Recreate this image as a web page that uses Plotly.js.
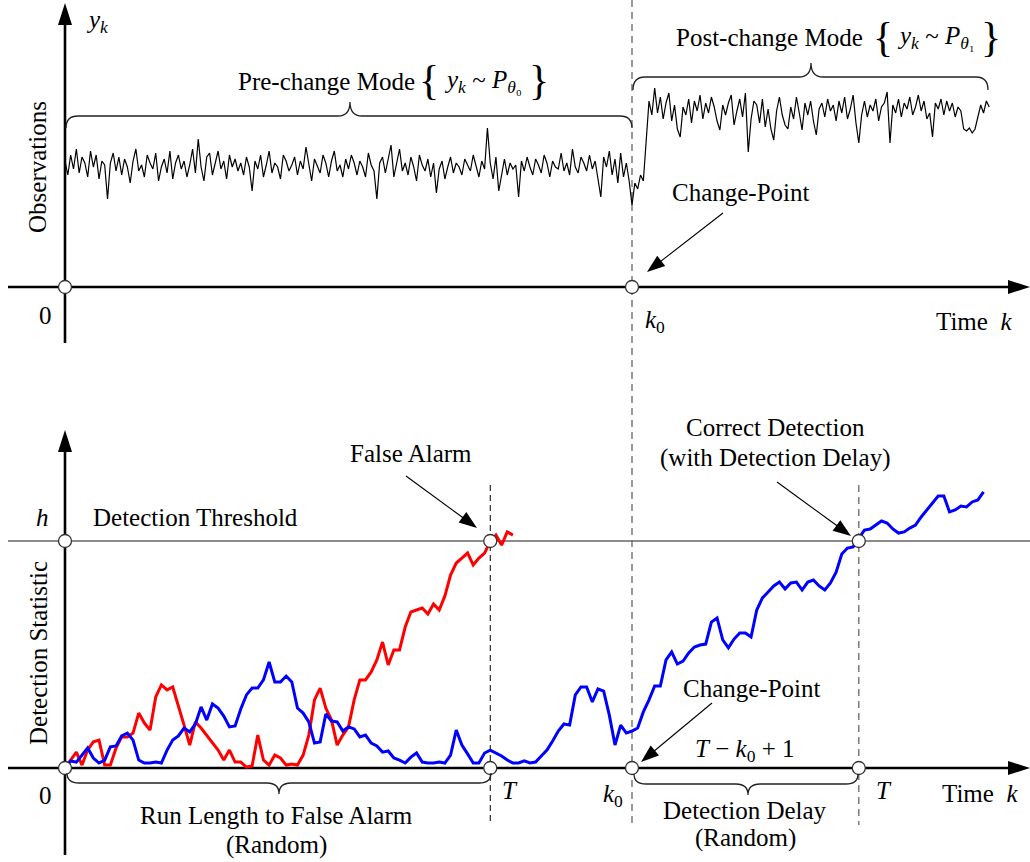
<!DOCTYPE html>
<html><head><meta charset="utf-8">
<script src="https://cdn.plot.ly/plotly-3.0.1.min.js"></script>
<style>html,body{margin:0;padding:0;background:#fff;}#chart{width:1030px;height:862px;}</style>
</head><body><div id="chart"></div>
<script>
// ---- data ----
const k0 = 200;      // change-point
const Tfa = 150;     // false-alarm stopping time
const Td = 280;      // correct detection stopping time
const h = 10;        // detection threshold
const STEP = 2;      // sampling step of detection statistics

const obsPre = [
6.3,5.6,6.6,5.9,6.9,5.7,6.5,6.2,5.5,6.8,6.0,6.6,5.4,6.3,6.1,4.4,6.2,6.7,5.8,6.5,
5.6,6.4,6.0,5.2,6.3,6.9,5.8,6.1,5.5,6.6,6.2,5.9,6.7,5.3,6.0,6.4,5.7,6.8,5.4,6.2,
6.6,5.9,6.3,5.5,6.1,6.9,5.7,7.4,6.0,5.3,6.5,6.7,5.6,6.2,6.8,5.9,6.3,5.4,6.6,6.0,
6.4,5.8,6.2,5.6,6.5,6.0,4.8,6.3,5.9,6.6,5.5,6.1,6.8,5.7,6.2,6.0,5.4,6.6,6.3,5.8,
6.1,6.5,5.6,6.3,5.9,7.0,6.2,5.3,6.4,6.0,5.7,6.6,6.2,5.5,6.3,6.8,5.8,6.1,5.5,6.4,
5.9,6.6,6.2,5.6,6.3,6.0,5.5,6.7,6.1,5.8,4.4,6.2,6.5,5.7,6.4,7.1,5.5,6.3,6.9,5.8,
6.2,5.6,6.5,6.0,5.3,6.6,6.1,5.8,6.4,5.5,6.2,4.7,5.9,6.3,5.4,6.0,6.5,5.7,6.2,6.0,
5.6,6.4,6.1,5.8,6.6,6.0,5.5,6.3,5.9,7.95,6.2,5.4,6.5,4.8,5.7,6.4,5.6,6.2,5.9,6.1,
4.5,6.3,5.8,6.5,6.0,5.6,6.4,6.1,5.7,6.6,6.2,5.5,6.3,6.0,5.9,6.7,5.8,6.2,5.6,6.9,
6.0,5.7,6.5,6.2,5.8,6.6,5.9,6.3,5.4,4.5,6.5,6.0,6.8,5.6,6.4,5.2,6.7,5.5,6.2,5.3
];
const obsPost = [
4.1,5.2,4.9,5.6,5.3,7.6,9.3,8.6,9.95,8.7,
9.5,8.4,9.2,9.7,8.3,9.1,7.9,7.5,9.0,8.6,
9.4,8.2,9.3,8.8,9.6,8.4,9.2,8.7,9.5,9.0,
8.3,7.85,9.1,8.6,9.2,9.6,8.1,8.8,9.4,8.5,
9.7,6.75,8.4,9.3,9.1,8.2,9.4,8.0,8.9,7.9,
7.35,8.8,9.5,8.6,8.1,7.9,9.0,8.4,9.5,8.7,
7.85,9.2,8.6,9.3,8.3,7.6,8.9,9.2,8.5,9.4,
8.8,9.1,8.3,9.3,8.7,9.5,8.4,8.9,9.6,8.2,
7.2,8.6,9.3,8.5,9.1,8.8,9.4,8.3,9.0,9.2,
9.75,7.2,9.1,8.7,9.4,8.5,9.2,8.9,9.5,8.6,
9.0,9.6,8.8,9.3,8.4,8.7,7.5,9.2,8.9,9.4,
8.6,9.3,8.8,9.2,8.5,9.0,8.8,7.9,7.8,7.95,
7.7,7.9,8.5,9.1,8.7,9.3,9.0
];
const redStat = [
0,0.35,0.7,0.13,0.8,1.15,1.23,0.13,0.13,0.88,
1.37,1.37,1.54,2.42,1.98,1.67,3.13,3.66,3.44,3.57,
2.78,1.89,1.01,2.03,1.76,1.45,1.15,0.79,0.35,0.79,
0.26,0.26,0.04,0.09,1.45,0.35,0.13,0.57,0.44,0.13,
0.18,0.13,0.57,1.45,3.0,3.52,2.64,2.11,1.01,1.45,
1.81,3.0,3.88,3.88,4.23,4.76,5.55,4.54,5.2,5.2,
6.21,6.87,6.96,7.05,6.78,7.22,6.96,7.58,8.5,9.03,
9.25,9.47,8.94,9.25,9.47,10.0,10.26,9.82,10.4,10.26
];
const blueStat = [
0,0.31,0.26,0.57,0.88,0.44,0.22,0.35,0.93,0.97,
1.41,1.54,1.23,0.35,0.22,0.22,0.26,0.22,0.79,1.23,
1.41,1.76,1.59,1.94,2.69,2.11,2.82,2.64,2.29,1.81,
1.85,2.6,3.22,3.52,3.52,3.88,4.67,3.79,3.79,4.05,
3.79,2.64,2.42,2.03,1.1,1.15,2.38,2.07,2.03,1.63,
1.81,1.72,1.37,1.45,1.1,0.97,0.7,0.75,0.44,0.35,
0.22,0.48,0.66,0.26,0.22,0.22,0.26,0.22,0.57,1.67,
1.01,0.62,0.22,0.22,0.66,0.79,0.66,0.53,0.35,0.22,
0.22,0.31,0.22,0.26,0.53,0.79,1.19,1.63,1.94,1.89,
3.22,3.57,3.57,2.91,3.48,3.39,2.33,1.01,1.89,1.54,
1.63,1.76,2.47,3.0,3.61,3.61,4.76,5.11,4.58,4.71,
5.07,5.33,5.42,5.46,6.43,6.61,5.64,5.29,5.68,5.95,
5.95,5.77,6.96,7.49,7.75,8.02,8.19,7.89,8.15,8.19,
7.84,8.19,8.28,8.02,7.84,8.15,8.63,9.43,9.69,9.74,
10.13,10.48,10.53,10.7,10.88,10.79,10.53,10.35,10.4,10.57,
10.7,11.06,11.37,11.72,11.98,11.98,11.28,11.37,11.54,11.5,
11.72,11.81,12.16
];

// ---- geometry (pixel layout of the figure) ----
const W = 1030, H = 862;
const PX = 2.835;   // px per time unit
const PY1 = 20;     // px per unit, observations
const PY2 = 22.7;   // px per unit, detection statistic
const FONT = 'Liberation Serif, Times New Roman, serif';
const FS = 25;
const X = px => px / W;
const Y = py => 1 - py / H;

const obsAll = obsPre.concat(obsPost);
const obsK = obsAll.map((_, i) => i);
const redK = redStat.map((_, i) => i * STEP);
const blueK = blueStat.map((_, i) => i * STEP);

const traces = [
  {x: obsK, y: obsAll, type: 'scatter', mode: 'lines', yaxis: 'y',
   line: {color: '#000', width: 1.2}, hoverinfo: 'skip'},
  {x: redK, y: redStat, type: 'scatter', mode: 'lines', yaxis: 'y2',
   line: {color: '#ff0000', width: 3}, hoverinfo: 'skip'},
  {x: blueK, y: blueStat, type: 'scatter', mode: 'lines', yaxis: 'y2',
   line: {color: '#0000ff', width: 3}, hoverinfo: 'skip'},
  {x: [0, k0], y: [0, 0], type: 'scatter', mode: 'markers', yaxis: 'y',
   marker: {size: 13, color: '#fff', line: {color: '#333', width: 1.3}}, hoverinfo: 'skip'},
  {x: [0, 0, Tfa, Tfa, k0, Td, Td], y: [0, h, h, 0, 0, h, 0], type: 'scatter', mode: 'markers', yaxis: 'y2',
   marker: {size: 13, color: '#fff', line: {color: '#333', width: 1.3}}, hoverinfo: 'skip'}
];

function polyPath(pts) {
  return 'M' + pts.map(p => X(p[0]) + ',' + Y(p[1])).join(' L') + ' Z';
}
function tri(tx, ty, dir) {
  let pts;
  if (dir === 'r') pts = [[tx, ty], [tx - 22, ty - 7], [tx - 22, ty + 7]];
  else pts = [[tx, ty], [tx - 7, ty + 22], [tx + 7, ty + 22]];
  return {type: 'path', xref: 'paper', yref: 'paper', path: polyPath(pts),
    fillcolor: '#000', line: {width: 0}};
}
function arrowShapes(sx, sy, tx, ty) {
  const dx = tx - sx, dy = ty - sy, L = Math.hypot(dx, dy);
  const ux = dx / L, uy = dy / L, len = 18, hw = 6.5;
  const bx = tx - ux * len, by = ty - uy * len;
  return [
    {type: 'line', xref: 'paper', yref: 'paper', x0: X(sx), y0: Y(sy), x1: X(bx + ux * 2), y1: Y(by + uy * 2),
     line: {color: '#000', width: 1.1}},
    {type: 'path', xref: 'paper', yref: 'paper',
     path: polyPath([[tx, ty], [bx - uy * hw, by + ux * hw], [bx + uy * hw, by - ux * hw]]),
     fillcolor: '#000', line: {width: 0}}
  ];
}
function bracePath(x0, x1, xt, yEnd, yLine, yTip) {
  const r = 12;
  const p = (x, y) => X(x) + ',' + Y(y);
  return 'M' + p(x0, yEnd) + ' Q' + p(x0, yLine) + ' ' + p(x0 + r, yLine) +
    ' L' + p(xt - r, yLine) + ' Q' + p(xt, yLine) + ' ' + p(xt, yTip) +
    ' Q' + p(xt, yLine) + ' ' + p(xt + r, yLine) +
    ' L' + p(x1 - r, yLine) + ' Q' + p(x1, yLine) + ' ' + p(x1, yEnd);
}
function brace(x0, x1, xt, yEnd, yLine, yTip) {
  return {type: 'path', xref: 'paper', yref: 'paper', path: bracePath(x0, x1, xt, yEnd, yLine, yTip),
    line: {color: '#222', width: 1.3}};
}

const AX = {color: '#000', width: 2.6};
const shapes = [
  {type: 'line', xref: 'paper', yref: 'y', x0: X(8), x1: X(1012), y0: 0, y1: 0, line: AX, layer: 'below'},
  {type: 'line', xref: 'x', yref: 'paper', x0: 0, x1: 0, y0: Y(343), y1: Y(22), line: AX, layer: 'below'},
  {type: 'line', xref: 'paper', yref: 'y2', x0: X(8), x1: X(1012), y0: 0, y1: 0, line: AX, layer: 'below'},
  {type: 'line', xref: 'x', yref: 'paper', x0: 0, x1: 0, y0: Y(855), y1: Y(450), line: AX, layer: 'below'},
  {type: 'line', xref: 'paper', yref: 'y2', x0: X(8), x1: X(1030), y0: h, y1: h, line: {color: '#666', width: 1.5}, layer: 'below'},
  {type: 'line', xref: 'x', yref: 'paper', x0: k0, x1: k0, y0: Y(0), y1: Y(823), line: {color: '#666', width: 1.3, dash: '7px,5px'}, layer: 'below'},
  {type: 'line', xref: 'x', yref: 'paper', x0: Tfa, x1: Tfa, y0: Y(485), y1: Y(825), line: {color: '#000', width: 1, dash: '6px,4px'}, layer: 'below'},
  {type: 'line', xref: 'x', yref: 'paper', x0: Td, x1: Td, y0: Y(485), y1: Y(825), line: {color: '#666', width: 1.3, dash: '7px,5px'}, layer: 'below'},
  tri(1030, 287, 'r'), tri(65, 3, 'u'), tri(1030, 768, 'r'), tri(65, 430, 'u'),
  brace(66, 632, 350, 128, 116, 102),
  brace(633, 988, 811, 90, 77, 63),
  brace(67, 491, 279, 773, 783, 794),
  brace(634, 858, 748, 774, 784, 795)
].concat(
  arrowShapes(723, 213, 647, 272),
  arrowShapes(406, 476, 477, 528),
  arrowShapes(777, 482, 851, 536),
  arrowShapes(712, 703, 641, 762)
);

function txt(px, py, text, o) {
  o = o || {};
  return {xref: 'paper', yref: 'paper', x: X(px), y: Y(py), text: text, showarrow: false,
    xanchor: o.xa || 'center', yanchor: 'middle', textangle: o.angle || 0,
    font: {family: FONT, size: o.size || FS, color: '#000'}};
}

const annotations = [
  txt(97, 22, '<i>y</i><sub><i>k</i></sub>'),
  txt(38, 167, 'Observations', {angle: -90}),
  txt(45, 315, '0'),
  txt(655, 322, '<i>k</i><sub>0</sub>'),
  txt(1014, 322, 'Time  <i>k</i>', {xa: 'right'}),
  txt(326, 82, 'Pre-change Mode'),
  txt(429, 80, '{', {size: 42}),
  txt(483, 82, '<i>y</i><sub><i>k</i></sub> ~ <i>P</i><sub><i>θ</i>₀</sub>'),
  txt(539, 80, '}', {size: 42}),
  txt(769, 38, 'Post-change Mode'),
  txt(883, 37, '{', {size: 42}),
  txt(936, 38, '<i>y</i><sub><i>k</i></sub> ~ <i>P</i><sub><i>θ</i>₁</sub>'),
  txt(991, 37, '}', {size: 42}),
  txt(741, 193, 'Change-Point'),
  txt(42, 517, '<i>h</i>'),
  txt(91, 517, 'Detection Threshold', {xa: 'left'}),
  txt(38, 653, 'Detection Statistic', {angle: -90}),
  txt(411, 453, 'False Alarm'),
  txt(775, 428, 'Correct Detection'),
  txt(775, 458, '(with Detection Delay)'),
  txt(752, 688, 'Change-Point'),
  txt(744, 750, '<i>T</i> − <i>k</i><sub>0</sub> + 1'),
  txt(45, 795, '0'),
  txt(510, 790, '<i>T</i>'),
  txt(613, 795, '<i>k</i><sub>0</sub>'),
  txt(884, 790, '<i>T</i>'),
  txt(1020, 793, 'Time  <i>k</i>', {xa: 'right'}),
  txt(276, 815, 'Run Length to False Alarm'),
  txt(276, 845, '(Random)'),
  txt(745, 810, 'Detection Delay'),
  txt(745, 838, '(Random)')
];

const layout = {
  width: W, height: H, margin: {l: 0, r: 0, t: 0, b: 0},
  paper_bgcolor: '#fff', plot_bgcolor: '#fff', showlegend: false,
  xaxis: {range: [-65 / PX, (W - 65) / PX], visible: false, fixedrange: true},
  yaxis: {range: [-(H - 287) / PY1, 287 / PY1], visible: false, fixedrange: true},
  yaxis2: {range: [-(H - 768) / PY2, 768 / PY2], overlaying: 'y', visible: false, fixedrange: true},
  shapes: shapes, annotations: annotations
};
Plotly.newPlot('chart', traces, layout, {staticPlot: true, displayModeBar: false});
</script></body></html>
